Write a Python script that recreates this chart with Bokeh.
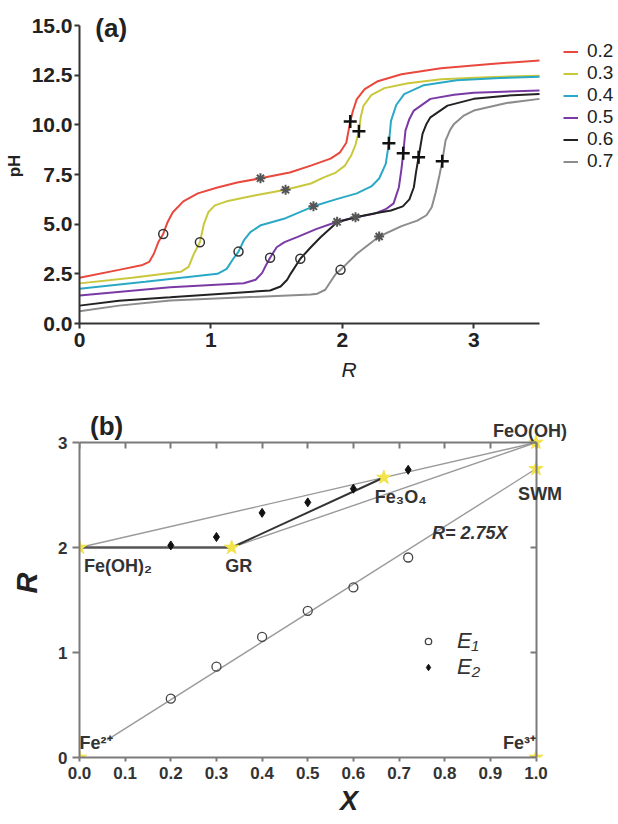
from bokeh.plotting import figure
from bokeh.layouts import column
from bokeh.models import (Legend, LegendItem, Label, LinearAxis, FixedTicker, Range1d,
                          PrintfTickFormatter)
from bokeh.embed import file_html
from bokeh.resources import INLINE

FONT = "Liberation Sans"

# ---------------- panel (a) data: pH vs R for several X ----------------
series_labels = ["0.2", "0.3", "0.4", "0.5", "0.6", "0.7"]
series_colors = ["#e8483e", "#c9c83c", "#2aa9c6", "#7a3aa6", "#222222", "#8c8c8c"]

R_02 = [0, 0.3, 0.48, 0.53, 0.565, 0.6, 0.637, 0.67, 0.71, 0.79, 0.9, 1.05, 1.2, 1.377, 1.6, 1.76, 1.91, 1.98, 2.03, 2.06, 2.08, 2.11, 2.17, 2.27, 2.45, 2.75, 3.13, 3.5]
pH_02 = [2.3, 2.7, 2.95, 3.1, 3.5, 4.1, 4.51, 5.1, 5.6, 6.15, 6.55, 6.85, 7.1, 7.31, 7.6, 7.95, 8.3, 8.6, 9.1, 10.17, 10.7, 11.3, 11.8, 12.2, 12.55, 12.85, 13.07, 13.24]

R_03 = [0, 0.4, 0.77, 0.83, 0.87, 0.916, 0.946, 0.98, 1.03, 1.12, 1.33, 1.568, 1.76, 1.86, 1.95, 2.02, 2.07, 2.1, 2.126, 2.14, 2.16, 2.22, 2.32, 2.5, 2.75, 3.1, 3.5]
pH_03 = [2.02, 2.3, 2.6, 2.85, 3.5, 4.09, 5.0, 5.6, 5.95, 6.15, 6.44, 6.73, 7.05, 7.36, 7.6, 7.95, 8.5, 9.0, 9.68, 10.4, 10.95, 11.5, 11.85, 12.1, 12.3, 12.4, 12.48]

R_04 = [0, 0.5, 1.05, 1.12, 1.17, 1.21, 1.25, 1.3, 1.38, 1.555, 1.78, 1.95, 2.11, 2.22, 2.28, 2.33, 2.354, 2.37, 2.41, 2.47, 2.62, 2.87, 3.2, 3.5]
pH_04 = [1.75, 2.1, 2.5, 2.75, 3.26, 3.62, 4.18, 4.6, 4.95, 5.27, 5.9, 6.25, 6.55, 6.9, 7.3, 8.04, 9.07, 10.2, 11.0, 11.55, 12.0, 12.25, 12.36, 12.42]

R_05 = [0, 0.69, 1.25, 1.34, 1.39, 1.42, 1.45, 1.5, 1.56, 1.66, 1.8, 1.96, 2.1, 2.24, 2.33, 2.39, 2.43, 2.45, 2.463, 2.48, 2.51, 2.544, 2.67, 2.85, 3.0, 3.5]
pH_05 = [1.41, 1.83, 2.03, 2.2, 2.55, 2.95, 3.31, 3.84, 4.1, 4.36, 4.75, 5.12, 5.35, 5.52, 5.75, 6.05, 6.86, 7.8, 8.57, 9.71, 10.3, 10.72, 11.31, 11.52, 11.62, 11.73]

R_06 = [0, 0.3, 0.69, 1.45, 1.53, 1.58, 1.606, 1.68, 1.76, 1.834, 1.96, 2.1, 2.25, 2.37, 2.46, 2.51, 2.544, 2.56, 2.58, 2.61, 2.64, 2.67, 2.8, 3.0, 3.25, 3.5]
pH_06 = [0.9, 1.15, 1.32, 1.66, 1.86, 2.2, 2.5, 3.26, 3.84, 4.34, 5.1, 5.35, 5.55, 5.69, 5.9, 6.25, 6.86, 7.6, 8.37, 9.55, 10.05, 10.38, 10.97, 11.31, 11.47, 11.56]

R_07 = [0, 0.3, 0.69, 1.76, 1.81, 1.87, 1.92, 1.95, 1.986, 2.11, 2.28, 2.45, 2.57, 2.64, 2.68, 2.71, 2.74, 2.76, 2.785, 2.82, 2.85, 2.92, 3.0, 3.25, 3.5]
pH_07 = [0.62, 0.9, 1.16, 1.46, 1.5, 1.7, 2.2, 2.5, 2.7, 3.51, 4.38, 4.9, 5.18, 5.45, 5.85, 6.6, 7.5, 8.17, 9.21, 9.75, 10.05, 10.45, 10.72, 11.1, 11.31]

curves_R = [R_02, R_03, R_04, R_05, R_06, R_07]
curves_pH = [pH_02, pH_03, pH_04, pH_05, pH_06, pH_07]

# equivalence / intermediate points on each curve
E1_R = [0.637, 0.916, 1.21, 1.45, 1.68, 1.986]
E1_pH = [4.51, 4.09, 3.62, 3.31, 3.26, 2.7]
mid_R = [1.377, 1.568, 1.78, 1.96, 2.10, 2.28]
mid_pH = [7.31, 6.73, 5.9, 5.12, 5.35, 4.38]
E2_R = [2.06, 2.126, 2.354, 2.463, 2.58, 2.76]
E2_pH = [10.17, 9.68, 9.07, 8.57, 8.37, 8.17]

pa_x_ticks = [0, 1, 2, 3]
pa_y_ticks = [0, 2.5, 5.0, 7.5, 10.0, 12.5, 15.0]

# ---------------- panel (b) data: R vs X diagram ----------------
phase_names = ["Fe²⁺", "Fe(OH)₂", "GR", "Fe₃O₄", "FeO(OH)", "SWM", "Fe³⁺"]
phase_X = [0.0, 0.0, 1 / 3, 2 / 3, 1.0, 1.0, 1.0]
phase_R = [0.0, 2.0, 2.0, 8 / 3, 3.0, 2.75, 0.0]

b_E1_X = [0.2, 0.3, 0.4, 0.5, 0.6, 0.72]
b_E1_R = [0.56, 0.865, 1.148, 1.397, 1.62, 1.905]
b_E2_X = [0.2, 0.3, 0.4, 0.5, 0.6, 0.72]
b_E2_R = [2.02, 2.10, 2.33, 2.43, 2.56, 2.74]

swm_slope = 2.75
swm_line_X = [0.06, 1.0]

pb_x_ticks = [0.0, 0.1, 0.2, 0.3, 0.4, 0.5, 0.6, 0.7, 0.8, 0.9, 1.0]
pb_y_ticks = [0, 1, 2, 3]

# =================== panel (a) ===================
# ranges reach past the axes (which stop at 3.5 and 15) so the legend and "(a)" are not clipped
pa = figure(width=618, height=395, x_range=Range1d(0, 4.101), y_range=Range1d(0, 15.86),
            output_backend="svg", toolbar_location=None,
            min_border_left=79, min_border_right=0, min_border_top=8, min_border_bottom=72)
pa.xgrid.visible = False
pa.ygrid.visible = False
pa.outline_line_color = None
pa.xaxis.ticker = FixedTicker(ticks=pa_x_ticks)
pa.yaxis.ticker = FixedTicker(ticks=pa_y_ticks)
pa.yaxis.formatter = PrintfTickFormatter(format="%.1f")
pa.yaxis.bounds = (0, 15)
pa.xaxis.bounds = (0, 3.5)
for ax in (pa.xaxis[0], pa.yaxis[0]):
    ax.axis_line_width = 2
    ax.axis_line_color = "#333333"
    ax.major_tick_line_color = "#333333"
    ax.major_tick_line_width = 2
    ax.major_tick_out = 5
    ax.major_tick_in = 0
    ax.minor_tick_line_color = None
    ax.major_label_text_font = FONT
    ax.major_label_text_font_size = "21px"
    ax.major_label_text_font_style = "bold"
    ax.major_label_text_color = "#222222"
    ax.axis_label_text_font = FONT
    ax.axis_label_text_color = "#222222"
pa.xaxis.major_label_standoff = 4
pa.yaxis.major_label_standoff = 2
pa.xaxis.axis_label = "R"
pa.xaxis.axis_label_text_font_style = "italic"
pa.xaxis.axis_label_text_font_size = "21px"
pa.xaxis.axis_label_standoff = 8
pa.yaxis.axis_label = "pH"
pa.yaxis.axis_label_text_font_style = "bold"
pa.yaxis.axis_label_text_font_size = "17px"
pa.yaxis.axis_label_standoff = 5

line_renderers = []
for Rv, pHv, col in zip(curves_R, curves_pH, series_colors):
    line_renderers.append(pa.line(Rv, pHv, line_color=col, line_width=2))

pa.scatter(E1_R, E1_pH, marker="circle", size=9, fill_color=None, line_color="#333333", line_width=1.5)
pa.scatter(mid_R, mid_pH, marker="asterisk", size=10, line_color="#555555", line_width=2)
pa.scatter(E2_R, E2_pH, marker="cross", size=13, line_color="#111111", line_width=2.5)

leg_a = Legend(items=[LegendItem(label=l, renderers=[r]) for l, r in zip(series_labels, line_renderers)],
               location=(484, 151), orientation="vertical", padding=0, margin=0, spacing=0,
               glyph_width=15, glyph_height=21, label_height=21, label_standoff=9,
               label_text_font=FONT, label_text_font_size="19px",
               label_text_color="#222222",
               background_fill_alpha=0, border_line_alpha=0)
pa.add_layout(leg_a)

pa.add_layout(Label(x=0.12, y=14.87, text="(a)", text_font=FONT, text_font_size="26px",
                    text_font_style="bold", text_baseline="middle", text_align="left",
                    text_color="#222222"))

# =================== panel (b) ===================
# frame reaches beyond X=1 and R=3 so that the phase labels there are not clipped;
# the box edges at X=1 and R=3 are axes fixed at those values
pb = figure(width=618, height=429, x_range=Range1d(0, 1.1807), y_range=Range1d(0, 3.324),
            output_backend="svg", toolbar_location=None,
            min_border_left=79, min_border_right=0, min_border_top=13, min_border_bottom=67)
pb.xgrid.visible = False
pb.ygrid.visible = False
pb.outline_line_color = None

bottom_ax = pb.below[0]
left_ax = pb.left[0]
top_ax = LinearAxis(fixed_location=3, bounds=(0, 1))
right_ax = LinearAxis(fixed_location=1, bounds=(0, 3))
pb.add_layout(top_ax, "above")
pb.add_layout(right_ax, "right")
bottom_ax.bounds = (0, 1)
left_ax.bounds = (0, 3)
for ax in (bottom_ax, top_ax):
    ax.ticker = FixedTicker(ticks=pb_x_ticks)
for ax in (left_ax, right_ax):
    ax.ticker = FixedTicker(ticks=pb_y_ticks)
bottom_ax.formatter = PrintfTickFormatter(format="%.1f")
for ax in (bottom_ax, left_ax, top_ax, right_ax):
    ax.axis_line_width = 2
    ax.axis_line_color = "#7a7a7a"
    ax.major_tick_line_color = "#7a7a7a"
    ax.major_tick_line_width = 2
    ax.minor_tick_line_color = None
    ax.major_label_text_font = FONT
    ax.major_label_text_font_size = "17px"
    ax.major_label_text_font_style = "bold"
    ax.major_label_text_color = "#333333"
    ax.axis_label_text_font = FONT
    ax.axis_label_text_color = "#222222"
for ax in (top_ax, right_ax):
    ax.major_tick_in = 6
    ax.major_tick_out = 0
    ax.major_label_text_font_size = "2px"
    ax.major_label_text_color = None
    ax.major_label_standoff = 0
bottom_ax.major_tick_out = 4
bottom_ax.major_tick_in = 0
bottom_ax.major_label_standoff = 5
left_ax.major_tick_out = 7
left_ax.major_tick_in = 0
left_ax.major_label_standoff = 5
bottom_ax.axis_label = "X"
bottom_ax.axis_label_text_font_style = "bold italic"
bottom_ax.axis_label_text_font_size = "27px"
bottom_ax.axis_label_standoff = 4
left_ax.axis_label = "R"
left_ax.axis_label_text_font_style = "bold italic"
left_ax.axis_label_text_font_size = "29px"
left_ax.axis_label_standoff = 12

def ph(name):
    i = phase_names.index(name)
    return phase_X[i], phase_R[i]

light = dict(line_color="#9a9a9a", line_width=1.4)
for a, b in [("Fe(OH)₂", "FeO(OH)"), ("GR", "FeO(OH)")]:
    (x0, y0), (x1, y1) = ph(a), ph(b)
    pb.line([x0, x1], [y0, y1], **light)
(x0, y0), (x1, y1) = ph("Fe(OH)₂"), ph("GR")
pb.line([x0, x1], [y0, y1], line_color="#555555", line_width=2.5)
(x0, y0), (x1, y1) = ph("GR"), ph("Fe₃O₄")
pb.line([x0, x1], [y0, y1], line_color="#333333", line_width=2)
pb.line(swm_line_X, [swm_slope * v for v in swm_line_X], **light)

r_e1 = pb.scatter(b_E1_X, b_E1_R, marker="circle", size=9, fill_color=None,
                  line_color="#444444", line_width=1.3)
r_e2 = pb.scatter(b_E2_X, b_E2_R, marker="diamond", size=9, fill_color="#111111",
                  line_color="#111111")
pb.scatter(phase_X, phase_R, marker="star", size=15, fill_color="#f3e34a",
           line_color="#f3e34a", line_width=1)

leg_b = Legend(items=[LegendItem(label="E₁", renderers=[r_e1]),
                      LegendItem(label="E₂", renderers=[r_e2])],
               location=(341, 77), orientation="vertical", padding=0, margin=0, spacing=0,
               glyph_width=16, glyph_height=26, label_height=26, label_standoff=21,
               label_text_font=FONT, label_text_font_size="22px", label_text_font_style="italic",
               label_text_color="#333333", background_fill_alpha=0, border_line_alpha=0)
pb.add_layout(leg_b)

lab_style = dict(text_font=FONT, text_font_size="18px", text_font_style="bold",
                 text_color="#333333", text_baseline="middle")
label_specs = [
    ("FeO(OH)", 0.987, 3.114, "center"),
    ("SWM", 1.009, 2.51, "center"),
    ("Fe₃O₄", 0.647, 2.48, "left"),
    ("Fe(OH)₂", 0.01, 1.824, "left"),
    ("GR", 0.319, 1.824, "left"),
    ("Fe²⁺", 0.0, 0.138, "left"),
    ("Fe³⁺", 1.0, 0.138, "right"),
]
for txt, xx, yy, al in label_specs:
    pb.add_layout(Label(x=xx, y=yy, text=txt, text_align=al, **lab_style))
pb.add_layout(Label(x=0.772, y=2.14, text="R= 2.75X", text_align="left",
                    text_font=FONT, text_font_size="18px", text_font_style="bold italic",
                    text_color="#333333", text_baseline="middle"))
pb.add_layout(Label(x=0.023, y=3.16, text="(b)", text_font=FONT, text_font_size="26px",
                    text_font_style="bold", text_baseline="middle", text_align="left",
                    text_color="#222222"))

layout = column(pa, pb, spacing=0)
open("out.html", "w").write(file_html(layout, INLINE, title="pH titration and R-X diagram"))
